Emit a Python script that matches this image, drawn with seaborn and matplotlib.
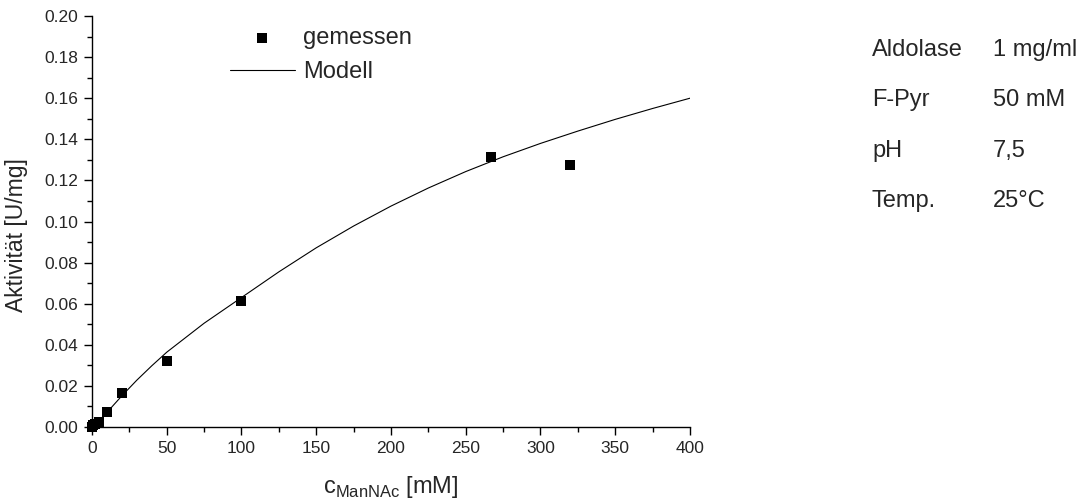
import matplotlib
matplotlib.use("Agg")
import matplotlib.pyplot as plt
import pandas as pd
import seaborn as sns
from matplotlib.ticker import MultipleLocator, FormatStrFormatter

# Messwerte
c_gemessen = [0, 1, 2, 5, 10, 20, 50, 100, 267, 320]
akt_gemessen = [0.0, 0.0008, 0.0015, 0.0026, 0.0073, 0.0164, 0.0321, 0.0613, 0.1315, 0.1277]

# Modellkurve
c_modell = [0, 5, 10, 20, 30, 40, 50, 75, 100, 125, 150, 175, 200, 225, 250, 275, 300, 325, 350, 375, 400]
akt_modell = [0.0, 0.0032, 0.0071, 0.0152, 0.0228, 0.0298, 0.0364, 0.0505, 0.0630, 0.0755,
              0.0872, 0.0978, 0.1075, 0.1163, 0.1243, 0.1315, 0.1380, 0.1440, 0.1497, 0.1550, 0.1600]

bedingungen = ["Aldolase", "F-Pyr", "pH", "Temp."]
werte = ["1 mg/ml", "50 mM", "7,5", "25°C"]

sns.set_style("ticks")
plt.rcParams["font.family"] = ["Liberation Sans", "DejaVu Sans"]
plt.rcParams["mathtext.fontset"] = "custom"
plt.rcParams["mathtext.rm"] = "Liberation Sans"

df_mess = pd.DataFrame({"c": c_gemessen, "akt": akt_gemessen})
df_mod = pd.DataFrame({"c": c_modell, "akt": akt_modell})

fig = plt.figure(figsize=(10.84, 5.04), dpi=100)
ax = fig.add_axes([92 / 1084, 1 - 427 / 504, 598 / 1084, 411 / 504])

sns.scatterplot(data=df_mess, x="c", y="akt", marker="s", color="black", s=46,
                edgecolor="black", linewidth=0, label="gemessen", ax=ax, zorder=3, clip_on=False)
sns.lineplot(data=df_mod, x="c", y="akt", color="black", linewidth=0.8, label="Modell", ax=ax)

ax.set_xlim(0, 400)
ax.set_ylim(0, 0.20)
ax.xaxis.set_major_locator(MultipleLocator(50))
ax.xaxis.set_minor_locator(MultipleLocator(25))
ax.yaxis.set_major_locator(MultipleLocator(0.02))
ax.yaxis.set_minor_locator(MultipleLocator(0.01))
ax.yaxis.set_major_formatter(FormatStrFormatter("%.2f"))
ax.tick_params(which="major", length=6, width=1, labelsize=12.5, direction="out", color="black", pad=4)
ax.tick_params(which="minor", length=3.5, width=1, direction="out", color="black")
for s in ["top", "right"]:
    ax.spines[s].set_visible(False)
for s in ["left", "bottom"]:
    ax.spines[s].set_linewidth(1)
    ax.spines[s].set_color("black")

ax.set_xlabel(r"c$_\mathregular{ManNAc}$ [mM]", fontsize=17)
ax.set_ylabel("Aktivität [U/mg]", fontsize=16.5)
ax.xaxis.set_label_coords(0.5, -0.115)
ax.yaxis.set_label_coords(-0.107, 0.467)

ax.legend(loc="upper left", bbox_to_anchor=(0.203, 1.013), frameon=False, fontsize=17,
          handlelength=2.75, handletextpad=0.35, labelspacing=0.5, borderpad=0.2)

for i, (b, w) in enumerate(zip(bedingungen, werte)):
    y = 1 - (50 + i * 50.3) / 504
    fig.text(872 / 1084, y, b, fontsize=17, va="center", ha="left")
    fig.text(993 / 1084, y, w, fontsize=17, va="center", ha="left")

fig.savefig("out.png", dpi=100)
